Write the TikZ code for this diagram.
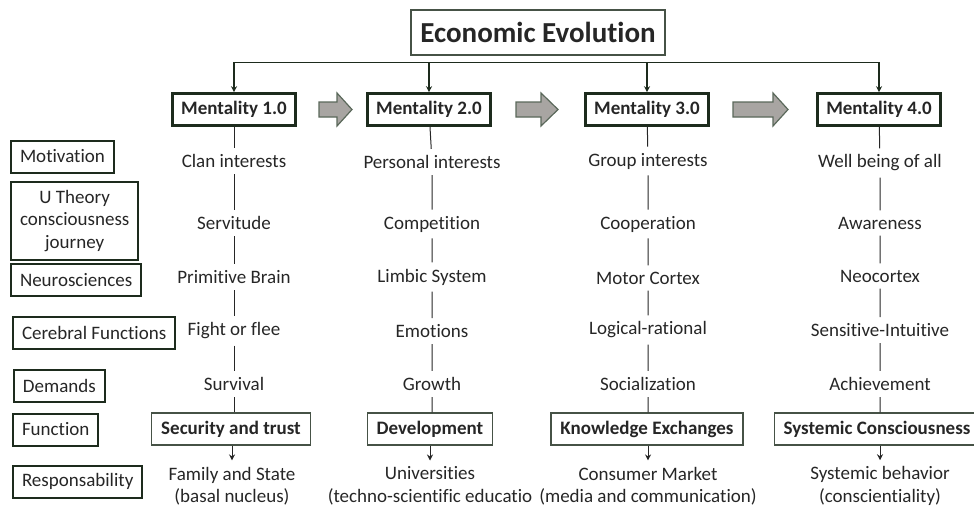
\documentclass[tikz,border=0pt]{standalone}
\usepackage{fontspec}
\setmainfont{Carlito}[Ligatures=NoCommon]
\usetikzlibrary{arrows.meta}
\definecolor{boxline}{RGB}{29,43,29}
\definecolor{thinline}{RGB}{70,82,70}
\definecolor{arrowfill}{RGB}{168,165,162}
\definecolor{arrowline}{RGB}{90,104,90}
\definecolor{ink}{RGB}{38,38,38}
\newcommand{\bodyfont}{\fontsize{9.5}{11.25}\selectfont}
\tikzstyle{txt}=[inner sep=3pt,text=ink,align=center,font=\bodyfont]
\tikzstyle{stage}=[draw=boxline,line width=1.3pt,fill=white,text=ink,inner xsep=4.5pt,minimum height=16pt,font=\bodyfont\bfseries]
\tikzstyle{role}=[draw=thinline,line width=0.6pt,fill=white,text=ink,inner xsep=4.75pt,minimum height=16pt,font=\bodyfont\bfseries]
\tikzstyle{lbl}=[draw=boxline,line width=1pt,text=ink,inner xsep=4.5pt,minimum height=16pt,anchor=west,align=center,font=\bodyfont]
\newcommand{\grayarrow}[3]{\filldraw[fill=arrowfill,draw=arrowline,line width=0.6pt] (#1,102) -- (#2,102) -- (#2,93) -- (#3,109.5) -- (#2,126) -- (#2,117) -- (#1,117) -- cycle;}
\tikzset{
	link/.style={draw=ink,line width=0.5pt},
	drop/.style={draw=boxline,line width=0.6pt,-{Stealth[length=3pt,width=3pt]}},
}

\begin{document}
\begin{tikzpicture}[x=0.5pt,y=-0.5pt]
    \useasboundingbox (0,0) rectangle (974,511);
    % title and the four stages
    \node[draw=thinline,line width=0.7pt,text=ink,minimum width=127pt,minimum height=22.5pt,font=\fontsize{14.5}{17}\selectfont\bfseries] (t) at (538,32.5) {Economic Evolution};
    \node[stage] (m1) at (234,109.5) {Mentality 1.0};
    \node[stage] (m2) at (429,109.5) {Mentality 2.0};
    \node[stage] (m3) at (647,109.5) {Mentality 3.0};
    \node[stage] (m4) at (879,109.5) {Mentality 4.0};
    \foreach \m in {m1,m2,m3,m4}
        \draw[drop] ([yshift=-3.5pt]t.south) -| (\m);
    \grayarrow{319}{337}{352}
    \grayarrow{516}{541}{558}
    \grayarrow{733}{773}{788}

    % row labels
    \node[lbl] (lmot) at (10,156.5) {Motivation};
    \node[lbl,minimum height=39pt] (lu) at (10,221) {U Theory\\consciousness\\journey};
    \node[lbl] (lneu) at (10,280) {Neurosciences};
    \node[lbl] (lcer) at (12,333) {Cerebral Functions};
    \node[lbl] (ldem) at (13,385.5) {Demands};
    \node[lbl] (lfun) at (12,429.5) {Function};
    \node[lbl] (lres) at (12,481.5) {Responsability};

    % column 1
    \node[txt] (a1) at (234,161) {Clan interests};
    \node[txt] (b1) at (234,223) {Servitude};
    \node[txt] (c1) at (234,277) {Primitive Brain};
    \node[txt] (d1) at (234,331) {Fight or flee};
    \node[txt] (e1) at (234,384) {Survival};
    \node[role] (f1) at (231,429) {Security and trust};
    \node[txt] (r1) at (232,486) {Family and State\\(basal nucleus)};
    % column 2
    \node[txt] (a2) at (432,162) {Personal interests};
    \node[txt] (b2) at (432,224) {Competition};
    \node[txt] (c2) at (432,277) {Limbic System};
    \node[txt] (d2) at (432,331) {Emotions};
    \node[txt] (e2) at (432,384) {Growth};
    \node[role] (f2) at (430,429) {Development};
    \node[txt] (r2) at (430,486) {Universities\\(techno-scientific educatio};
    % column 3
    \node[txt] (a3) at (648,161) {Group interests};
    \node[txt] (b3) at (648,224) {Cooperation};
    \node[txt] (c3) at (648,278) {Motor Cortex};
    \node[txt] (d3) at (648,330) {Logical-rational};
    \node[txt] (e3) at (648,384) {Socialization};
    \node[role] (f3) at (647,429) {Knowledge Exchanges};
    \node[txt] (r3) at (648,486) {Consumer Market\\(media and communication)};
    % column 4
    \node[txt] (a4) at (880,163) {Well being of all};
    \node[txt] (b4) at (880,223) {Awareness};
    \node[txt] (c4) at (880,276) {Neocortex};
    \node[txt] (d4) at (880,330) {Sensitive-Intuitive};
    \node[txt] (e4) at (880,384) {Achievement};
    \node[role] (f4) at (877,429) {Systemic Consciousness};
    \node[txt] (r4) at (880,486) {Systemic behavior\\(conscientiality)};

    \foreach \c in {1,2,3,4}{
        \draw[link] (m\c) -- (a\c) -- (b\c) -- (c\c) -- (d\c) -- (e\c) -- (e\c |- f\c.north);
        \draw[link,-{Stealth[length=3pt,width=3pt]}] (f\c.south -| r\c) -- (r\c);
    }
\end{tikzpicture}
\end{document}
